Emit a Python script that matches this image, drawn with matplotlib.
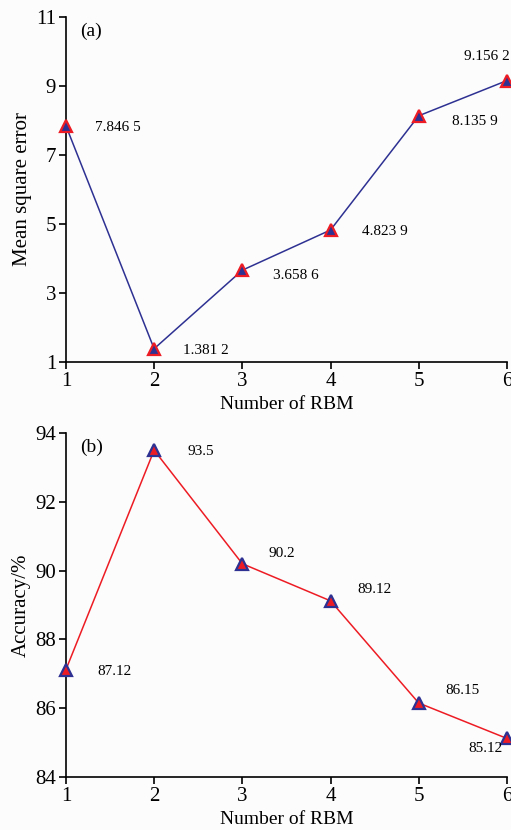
import matplotlib.pyplot as plt

plt.rcParams['font.family'] = ['Liberation Serif', 'DejaVu Serif']

# data
n_rbm = [1, 2, 3, 4, 5, 6]
mse = [7.8465, 1.3812, 3.6586, 4.8239, 8.1359, 9.1562]
mse_labels = ['7.846 5', '1.381 2', '3.658 6', '4.823 9', '8.135 9', '9.156 2']
acc = [87.12, 93.5, 90.2, 89.12, 86.15, 85.12]
acc_labels = ['87.12', '93.5', '90.2', '89.12', '86.15', '85.12']

navy = '#2e3192'
red = '#ed1c24'
bg = '#fcfcfc'

# label offsets in points (dx, dy, ha)
mse_off = [(21, -1, 'left'), (21, -1, 'left'), (22, -4, 'left'),
           (23, -1, 'left'), (24, -4, 'left'), (-31, 17, 'left')]
acc_off = [(23, -1, 'left'), (24, -1, 'left'), (19, 7, 'left'),
           (19, 8, 'left'), (19, 9, 'left'), (-3, -7, 'right')]

fig = plt.figure(figsize=(5.11, 8.30), dpi=100, facecolor=bg)
ax1 = fig.add_axes([0.129, 0.564, 0.863, 0.4155])
ax2 = fig.add_axes([0.129, 0.0639, 0.863, 0.4144])


def style(ax, ylim, yticks, ylabel, tag):
    ax.set_facecolor(bg)
    ax.set_xlim(1, 6)
    ax.set_ylim(*ylim)
    ax.set_xticks(n_rbm)
    ax.set_yticks(yticks)
    for s in ['top', 'right']:
        ax.spines[s].set_visible(False)
    for s in ['left', 'bottom']:
        ax.spines[s].set_linewidth(1.2)
    ax.tick_params(direction='out', length=5, width=1.2, labelsize=15, pad=2)
    ax.set_xlabel('Number of RBM', fontsize=14, labelpad=4)
    ax.set_ylabel(ylabel, fontsize=15, labelpad=3)
    ax.text(0.032, 0.958, tag, transform=ax.transAxes, fontsize=14, va='center')


style(ax1, (1, 11), [1, 3, 5, 7, 9, 11], 'Mean square error', '(a)')
ax1.plot(n_rbm, mse, color=navy, lw=1.1, marker='^', ms=9,
         mfc=navy, mec=red, mew=1.6, clip_on=False, zorder=3)
for x, y, t, (dx, dy, ha) in zip(n_rbm, mse, mse_labels, mse_off):
    ax1.annotate(t, (x, y), xytext=(dx, dy), textcoords='offset points',
                 fontsize=11, ha=ha, va='center', annotation_clip=False)

style(ax2, (84, 94), [84, 86, 88, 90, 92, 94], 'Accuracy/%', '(b)')
ax2.plot(n_rbm, acc, color=red, lw=1.1, marker='^', ms=9,
         mfc=red, mec=navy, mew=1.6, clip_on=False, zorder=3)
for x, y, t, (dx, dy, ha) in zip(n_rbm, acc, acc_labels, acc_off):
    ax2.annotate(t, (x, y), xytext=(dx, dy), textcoords='offset points',
                 fontsize=11, ha=ha, va='center', annotation_clip=False)

fig.savefig('out.png', dpi=100, facecolor=bg)
